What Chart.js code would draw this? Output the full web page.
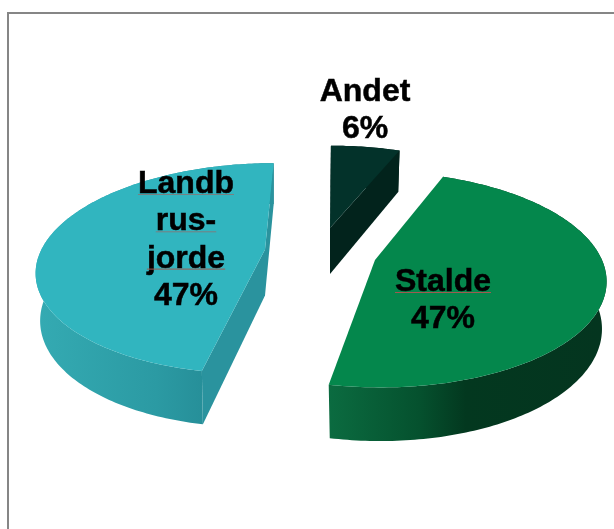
<!DOCTYPE html>
<html>
<head>
<meta charset="utf-8">
<style>
html, body { margin: 0; padding: 0; background: #fff; overflow: hidden; }
canvas { display: block; }
</style>
<script src="https://cdn.jsdelivr.net/npm/chart.js@4/dist/chart.umd.min.js"></script>
</head>
<body>
<canvas id="myChart" width="614" height="529"></canvas>
<script>
// Data
const categories = ['Andet', 'Stalde', 'Landbrugsjorde'];
const shares = [6, 47, 47];
const labelLines = [['Andet'], ['Stalde'], ['Landb', 'rus-', 'jorde']];

// Colours per slice: top, cut face, rim gradient stops
const topColors = ['#03322a', '#04874c', '#31b5bf'];
const faceColors = ['#02231c', '#04351f', '#2a939e'];
const rimStops = [
  [[0, '#02231c'], [1, '#02231c']],
  [[0, '#0b6b40'], [0.33, '#05512e'], [0.5, '#03381f'], [1, '#04351f']],
  [[0, '#34aab2'], [0.5, '#2b9aa3'], [1, '#1f7f8a']]
];

// Fake 3D pie: how far each slice is pulled out from the chart centre
const explode = [[23, -36.5], [68, -4.5], [-42, -15]];
const sliceScale = [[0.96, 0.93], [1, 1], [0.985, 0.975]];
const vanishX = [336, 350, 322];
const showFaces = [true, false, true];
const labelPos = [[365, 101], [443, 291], [186, 193]];

const persp = 0.18;
const xRatio = 0.858, yRatio = 0.395;
const depth = 46, lowX = 0.98, lowY = 1.06;

function project(arc, i, theta, r, low) {
  const R = arc.outerRadius;
  const ax = arc.x + explode[i][0];
  const ay = arc.y + explode[i][1];
  const u = Math.sin(theta) * r, v = -Math.cos(theta) * r;
  const w = 1 - persp * v;
  const sx = (low ? lowX : 1) * sliceScale[i][0];
  const sy = (low ? lowY : 1) * sliceScale[i][1];
  return {
    x: vanishX[i] + (ax - vanishX[i] + sx * R * xRatio * u) / w,
    y: ay + sy * R * yRatio * v / w + (low ? depth : 0)
  };
}

function polygon(ctx, pts) {
  ctx.beginPath();
  pts.forEach((p, k) => k ? ctx.lineTo(p.x, p.y) : ctx.moveTo(p.x, p.y));
  ctx.closePath();
}

function drawSlice(ctx, arc, i) {
  const a0 = arc.startAngle + Math.PI / 2;
  const a1 = arc.endAngle + Math.PI / 2;
  const top = [], low = [];
  const n = Math.max(6, Math.ceil((a1 - a0) * 60));
  for (let k = 0; k <= n; k++) {
    const t = a0 + (a1 - a0) * k / n;
    top.push(project(arc, i, t, 1, false));
    low.push(project(arc, i, t, 1, true));
  }
  const apexTop = project(arc, i, 0, 0, false);
  const apexLow = project(arc, i, 0, 0, true);

  // rim
  const xs = low.map(p => p.x);
  const minX = Math.min(...xs), maxX = Math.max(...xs);
  const grad = ctx.createLinearGradient(minX, 0, maxX, 0);
  rimStops[i].forEach(s => grad.addColorStop(s[0], s[1]));
  polygon(ctx, top.concat(low.slice().reverse()));
  ctx.fillStyle = grad;
  ctx.fill();

  // both cut faces
  if (showFaces[i]) {
    ctx.fillStyle = faceColors[i];
    polygon(ctx, [apexTop, top[0], low[0], apexLow]);
    ctx.fill();
    polygon(ctx, [apexTop, top[n], low[n], apexLow]);
    ctx.fill();
  }

  // top surface
  polygon(ctx, [apexTop].concat(top));
  ctx.fillStyle = arc.options.backgroundColor;
  ctx.fill();
}

const pie3d = {
  id: 'pie3d',
  beforeDatasetsDraw(chart) {
    const ctx = chart.ctx;
    ctx.save();
    // plot frame, cut off on the right and at the bottom
    ctx.fillStyle = '#868686';
    ctx.fillRect(7, 12, 607, 2);
    ctx.fillRect(7, 12, 2, 517);
    const arcs = chart.getDatasetMeta(0).data;
    arcs.forEach((arc, i) => drawSlice(ctx, arc, i));
    ctx.restore();
    return false; // the flat arcs are replaced by the slices above
  },
  afterDraw(chart) {
    const ctx = chart.ctx;
    ctx.save();
    ctx.font = 'bold 32px "Liberation Sans", Arial, sans-serif';
    ctx.textAlign = 'center';
    ctx.textBaseline = 'alphabetic';
    ctx.lineWidth = 0.5;
    ctx.strokeStyle = '#000';
    const total = shares.reduce((a, b) => a + b, 0);
    labelLines.forEach((lines, i) => {
      const [x, y] = labelPos[i];
      lines.concat(Math.round(shares[i] / total * 100) + '%').forEach((txt, k) => {
        const by = y + k * 37.3;
        ctx.fillStyle = '#000';
        ctx.fillText(txt, x, by);
        ctx.strokeText(txt, x, by);
        if (i > 0 && k < lines.length) {
          // spell check marks below the words
          const w = ctx.measureText(txt).width;
          ctx.fillStyle = (k === 2 || i === 1) ? '#a05a50' : '#7a7f80';
          ctx.fillRect(x - w / 2, by + 1, w, 1);
        }
      });
    });
    ctx.restore();
  }
};

new Chart(document.getElementById('myChart').getContext('2d'), {
  type: 'pie',
  data: {
    labels: categories,
    datasets: [{ data: shares, backgroundColor: topColors, borderWidth: 0 }]
  },
  options: {
    responsive: false,
    animation: false,
    layout: { padding: 0 },
    plugins: { legend: { display: false }, tooltip: { enabled: false } }
  },
  plugins: [pie3d]
});
</script>
</body>
</html>
